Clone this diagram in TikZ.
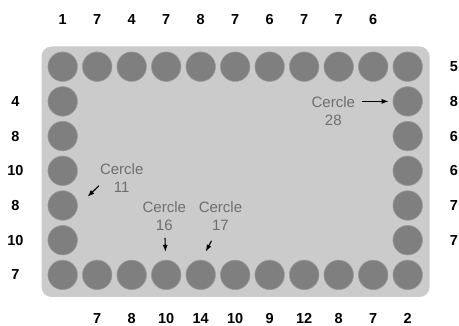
\documentclass[tikz,border=0pt]{standalone}
\usepackage{fontspec}
\setmainfont{Liberation Sans}
\usetikzlibrary{arrows.meta}
\definecolor{panelgray}{HTML}{CBCBCB}
\definecolor{dotgray}{HTML}{7F7F7F}
\definecolor{notegray}{HTML}{6E6E6E}

\begin{document}
\begin{tikzpicture}[
  x=1pt, y=-1pt,
  panel/.style={fill=panelgray, rounded corners=10pt},
  dot/.style={
    circle, fill=dotgray, draw=dotgray!80!white, line width=0.6pt,
    minimum size=29.5pt, inner sep=0pt
  },
  num/.style={font=\fontsize{14.5}{16}\selectfont\bfseries, inner sep=0pt},
  note/.style={
    font=\fontsize{15}{18}\selectfont, text=notegray,
    align=center, inner sep=2pt
  },
  arr/.style={-{Latex[length=7pt,width=5pt]}, line width=1.1pt},
]

\useasboundingbox (0,0) rectangle (459,326);
\fill[panel] (41.5,46.5) rectangle (429.5,297);

% circles, numbered counterclockwise from the top
\foreach \i in {1,...,11} {
  \pgfmathtruncatemacro{\n}{mod(39-\i,32)+1}
  \pgfmathtruncatemacro{\m}{12+\i}
  \node[dot] (c\n) at ({62.7+(\i-1)*34.5}, 66.7) {};
  \node[dot] (c\m) at ({62.7+(\i-1)*34.5}, 274.9) {};
}
\foreach \j in {2,...,6} {
  \pgfmathtruncatemacro{\n}{6+\j}
  \pgfmathtruncatemacro{\m}{30-\j}
  \node[dot] (c\n) at (62.7, {66.7+(\j-1)*34.7}) {};
  \node[dot] (c\m) at (407.7, {66.7+(\j-1)*34.7}) {};
}

% counts round the edge
\foreach \v [count=\i] in {1,7,4,7,8,7,6,7,7,6}
  \node[num] (top\i) at ({62.7+(\i-1)*34.5}, 20) {\v};
\foreach \v [count=\i from 2] in {7,8,10,14,10,9,12,8,7,2}
  \node[num] (bot\i) at ({62.7+(\i-1)*34.5}, 318.5) {\v};
\foreach \v [count=\j from 2] in {4,8,10,8,10,7}
  \node[num] (left\j) at (15.5, {66.7+(\j-1)*34.7}) {\v};
\foreach \v [count=\j] in {5,8,6,6,7,7}
  \node[num] (right\j) at (454, {66.7+(\j-1)*34.7}) {\v};

% callouts
\node[note] (lbl28) at (333.3, 111.2) {Cercle\\28};
\node[note] (lbl11) at (121.7, 177.8) {Cercle\\11};
\node[note] (lbl16) at (164.3, 216.2) {Cercle\\16};
\node[note] (lbl17) at (220.5, 216.2) {Cercle\\17};

\coordinate (tip11) at (87.5, 196.8);
\coordinate (tip17) at (205.7, 251.7);

\draw[arr, shorten <=5pt, shorten >=4pt] (lbl28.east |- c28) -- (c28);
\draw[arr] ([shift={(1,8)}]lbl11.west) -- (tip11);
\draw[arr, shorten <=5pt, shorten >=8pt] (lbl16) -- (c16);
\draw[arr] ([shift={(-9,8)}]lbl17.south) -- (tip17);

\end{tikzpicture}
\end{document}
